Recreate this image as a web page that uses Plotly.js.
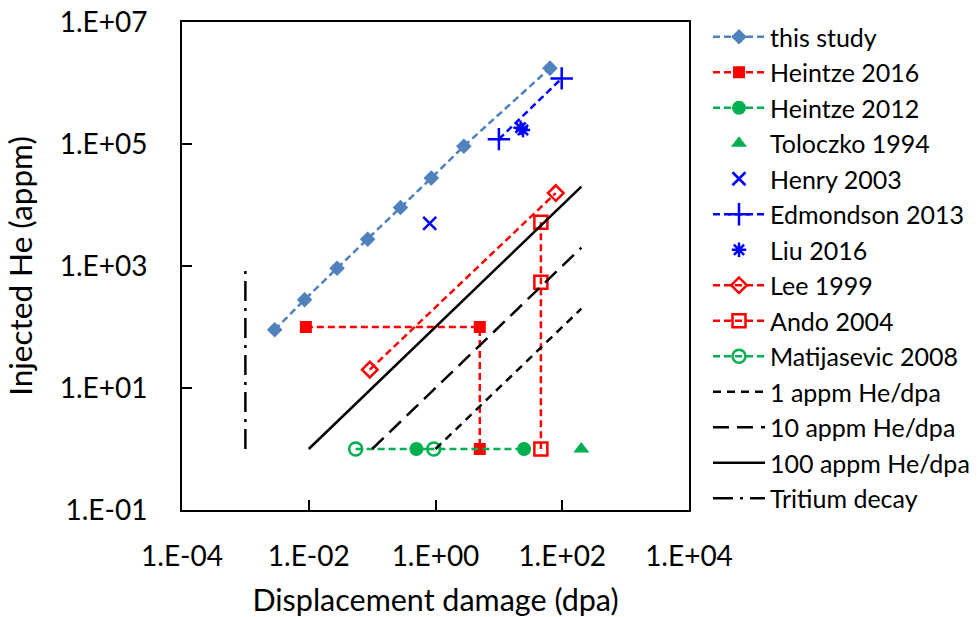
<!DOCTYPE html>
<html>
<head>
<meta charset="utf-8">
<script src="https://cdn.plot.ly/plotly-3.0.1.min.js"></script>
<style>html,body{margin:0;padding:0;background:#fff;}#chart{width:979px;height:617px;}</style>
</head>
<body>
<div id="chart"></div>
<script>
// ---- data ----
const thisStudyX = [0.0029, 0.0086, 0.028, 0.085, 0.28, 0.86, 2.8, 64];
const thisStudyY = [90, 280, 920, 2750, 9100, 27700, 92000, 1750000];
const heintze2016X = [0.009, 5, 5];
const heintze2016Y = [100, 100, 1];
const heintze2012X = [0.5, 25];
const heintze2012Y = [1, 1];
const toloczko1994X = [200];
const toloczko1994Y = [1];
const henry2003X = [0.81];
const henry2003Y = [5000];
const edmondson2013X = [10, 98];
const edmondson2013Y = [120000, 1190000];
const liu2016X = [22, 24];
const liu2016Y = [185000, 170000];
const lee1999X = [0.092, 79];
const lee1999Y = [20, 15700];
const ando2004X = [46, 46, 46];
const ando2004Y = [5200, 540, 1];
const matijasevic2008X = [0.055, 0.94];
const matijasevic2008Y = [1, 1];
const ratio1X = [1, 200];
const ratio1Y = [1, 200];
const ratio10X = [0.1, 200];
const ratio10Y = [1, 2000];
const ratio100X = [0.01, 200];
const ratio100Y = [1, 20000];
const tritiumX = [0.001, 0.001];
const tritiumY = [1, 1000];
const xTickVals = [1e-4, 1e-2, 1, 1e2, 1e4];
const xTickText = ['1.E-04', '1.E-02', '1.E+00', '1.E+02', '1.E+04'];
const yTickVals = [1e-1, 1e1, 1e3, 1e5, 1e7];
const yTickText = ['1.E-01', '1.E+01', '1.E+03', '1.E+05', '1.E+07'];

const BLUE_S = '#4F81BD', RED = '#FF0000', GREEN = '#00B050', BLUE = '#0000FF';
const dashS = '7px,4px';
const FONT = 'Lato, "Open Sans", sans-serif';

const traces = [
  {name: 'this study', x: thisStudyX, y: thisStudyY, mode: 'lines+markers',
   line: {color: BLUE_S, width: 2.5, dash: dashS}, marker: {symbol: 'diamond', size: 12, color: BLUE_S}},
  {name: 'Heintze 2016', x: heintze2016X, y: heintze2016Y, mode: 'lines+markers',
   line: {color: RED, width: 2.5, dash: dashS}, marker: {symbol: 'square', size: 12, color: RED}},
  {name: 'Heintze 2012', x: heintze2012X, y: heintze2012Y, mode: 'lines+markers',
   line: {color: GREEN, width: 2.5, dash: dashS}, marker: {symbol: 'circle', size: 14, color: GREEN}},
  {name: 'Toloczko 1994', x: toloczko1994X, y: toloczko1994Y, mode: 'markers',
   marker: {symbol: 'triangle-up', size: 14, color: GREEN}},
  {name: 'Henry 2003', x: henry2003X, y: henry2003Y, mode: 'markers',
   marker: {symbol: 'x-thin-open', size: 13, color: BLUE, line: {color: BLUE, width: 2.5}}},
  {name: 'Edmondson 2013', x: edmondson2013X, y: edmondson2013Y, mode: 'lines+markers',
   line: {color: BLUE, width: 2.5, dash: dashS}, marker: {symbol: 'cross-thin-open', size: 16, color: BLUE, line: {color: BLUE, width: 2.5}}},
  {name: 'Liu 2016', x: liu2016X, y: liu2016Y, mode: 'markers',
   marker: {symbol: 'asterisk-open', size: 12, color: BLUE, line: {color: BLUE, width: 2.5}}},
  {name: 'Lee 1999', x: lee1999X, y: lee1999Y, mode: 'lines+markers',
   line: {color: RED, width: 2.5, dash: dashS}, marker: {symbol: 'diamond-open', size: 12, color: RED, line: {color: RED, width: 2.5}}},
  {name: 'Ando 2004', x: ando2004X, y: ando2004Y, mode: 'lines+markers',
   line: {color: RED, width: 2.5, dash: dashS}, marker: {symbol: 'square-open', size: 13, color: RED, line: {color: RED, width: 2.5}}},
  {name: 'Matijasevic 2008', x: matijasevic2008X, y: matijasevic2008Y, mode: 'lines+markers',
   line: {color: GREEN, width: 2.5, dash: dashS}, marker: {symbol: 'circle-open', size: 13, color: GREEN, line: {color: GREEN, width: 2.5}}},
  {name: '1 appm He/dpa', x: ratio1X, y: ratio1Y, mode: 'lines',
   line: {color: '#000', width: 2.5, dash: '8px,6px'}},
  {name: '10 appm He/dpa', x: ratio10X, y: ratio10Y, mode: 'lines',
   line: {color: '#000', width: 2.5, dash: '16px,8px'}},
  {name: '100 appm He/dpa', x: ratio100X, y: ratio100Y, mode: 'lines',
   line: {color: '#000', width: 2.5}},
  {name: 'Tritium decay', x: tritiumX, y: tritiumY, mode: 'lines',
   line: {color: '#000', width: 2.5, dash: '20px,7px,3px,7px'}}
];

const layout = {
  width: 979, height: 617,
  margin: {l: 182, r: 290, t: 22, b: 107},
  paper_bgcolor: '#fff', plot_bgcolor: '#fff',
  font: {family: FONT, color: '#000'},
  showlegend: true,
  legend: {
    xref: 'container', yref: 'container',
    x: 708 / 979, y: 1 - 14 / 617, xanchor: 'left', yanchor: 'top',
    font: {family: FONT, size: 25, color: '#000'},
    itemwidth: 52, bgcolor: 'rgba(0,0,0,0)', borderwidth: 0,
    maxheight: 600
  },
  xaxis: {
    type: 'log', range: [-4, 4],
    tickvals: xTickVals, ticktext: xTickText,
    ticks: 'inside', ticklen: 10, tickwidth: 2, tickcolor: '#000',
    showline: true, linewidth: 2, linecolor: '#000', mirror: true,
    showgrid: false, zeroline: false,
    ticklabelstandoff: 20,
    tickfont: {family: FONT, size: 28, color: '#000'},
    title: {text: 'Displacement damage (dpa)', font: {family: FONT, size: 30.5, color: '#000'}, standoff: 31}
  },
  yaxis: {
    type: 'log', range: [-1, 7],
    tickvals: yTickVals, ticktext: yTickText,
    ticks: 'inside', ticklen: 10, tickwidth: 2, tickcolor: '#000',
    showline: true, linewidth: 2, linecolor: '#000', mirror: true,
    showgrid: false, zeroline: false,
    ticklabelstandoff: 27,
    tickfont: {family: FONT, size: 28, color: '#000'},
    title: {text: 'Injected He (appm)', font: {family: FONT, size: 31.5, color: '#000'}, standoff: 18}
  }
};

Plotly.newPlot('chart', traces, layout, {displayModeBar: false, staticPlot: true});
</script>
</body>
</html>
